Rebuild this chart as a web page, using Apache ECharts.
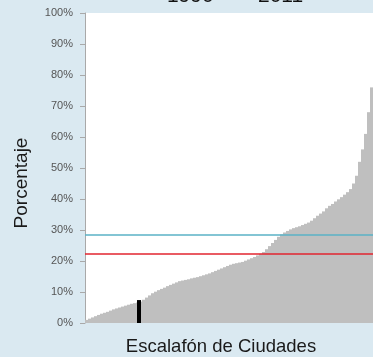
<!DOCTYPE html>
<html>
<head>
<meta charset="utf-8">
<script src="https://cdn.jsdelivr.net/npm/echarts@6/dist/echarts.min.js"></script>
<style>
html,body{margin:0;padding:0;background:#dae9f1;}
#c{width:373px;height:357px;}
</style>
</head>
<body>
<div id="c"></div>
<script>
// Share (%) per city, sorted ascending (city ranking)
var cityValues = [
  1.0, 1.4, 1.8, 2.2, 2.6, 3.0, 3.3, 3.6, 4.0, 4.4,
  4.7, 5.0, 5.3, 5.6, 5.9, 6.2, 6.4, 6.6, 6.9, 7.5,
  8.2, 8.9, 9.6, 10.1, 10.6, 11.0, 11.4, 11.9, 12.3, 12.7,
  13.1, 13.5, 13.7, 13.9, 14.1, 14.4, 14.6, 14.8, 15.1, 15.4,
  15.7, 16.0, 16.4, 16.8, 17.2, 17.6, 18.0, 18.4, 18.8, 19.1,
  19.3, 19.5, 19.7, 20.1, 20.5, 20.9, 21.3, 21.8, 22.3, 22.9,
  23.8, 24.8, 25.8, 26.8, 27.8, 28.6, 29.2, 29.7, 30.2, 30.6,
  30.9, 31.2, 31.6, 32.0, 32.4, 33.0, 33.8, 34.6, 35.3, 36.0,
  37.0, 37.8, 38.4, 39.2, 39.9, 40.6, 41.4, 42.2, 43.2, 45.0,
  47.5, 52.0, 56.0, 61.0, 68.0, 76.0
];
var cityRanks = cityValues.map(function (v, i) { return String(i + 1); });
var markerRank = 18;      // highlighted city (position on ranking)
var markerValue = 7.4;    // highlighted city value (%)
var refLineCyan = 28.4;   // reference level (%)
var refLineRed = 22.3;    // reference level (%)
var yTicks = { min: 0, max: 100, interval: 10 };
var titleText = '1990  —  2011';
var yTitle = 'Porcentaje';
var xTitle = 'Escalafón de Ciudades';

var chart = echarts.init(document.getElementById('c'));
chart.setOption({
  backgroundColor: '#dae9f1',
  animation: false,
  grid: {
    left: 85, right: 0, top: 13, bottom: 34,
    show: true, backgroundColor: '#ffffff', borderWidth: 0
  },
  xAxis: [{
    type: 'category',
    data: cityRanks,
    boundaryGap: true,
    axisLine: { show: false },
    axisTick: { show: false },
    axisLabel: { show: false },
    splitLine: { show: false }
  }, {
    type: 'value',
    min: 0,
    max: cityValues.length,
    show: false
  }],
  yAxis: {
    type: 'value',
    min: yTicks.min, max: yTicks.max, interval: yTicks.interval,
    axisLine: { show: true, lineStyle: { color: '#a9a9a9', width: 1 } },
    axisTick: { show: true, length: 5, lineStyle: { color: '#a9a9a9' } },
    axisLabel: {
      formatter: '{value}%', color: '#555', fontSize: 11,
      fontFamily: 'Liberation Sans, Arial, sans-serif', margin: 12
    },
    splitLine: { show: false }
  },
  series: [{
    type: 'bar',
    data: cityValues,
    barCategoryGap: '0%',
    itemStyle: { color: '#bfbfbf' },
    silent: true,
    markLine: {
      silent: true,
      symbol: 'none',
      label: { show: false },
      data: [
        { yAxis: refLineCyan, lineStyle: { color: '#5ab2c6', width: 1.5, type: 'solid' } },
        { yAxis: refLineRed, lineStyle: { color: '#e2252f', width: 1.5, type: 'solid' } }
      ]
    }
  }, {
    type: 'line',
    xAxisIndex: 1,
    data: [[markerRank, 0], [markerRank, markerValue]],
    symbol: 'none',
    lineStyle: { color: '#000', width: 4 },
    silent: true,
    z: 5
  }],
  graphic: [{
    type: 'text',
    x: 235, y: -14,
    style: {
      text: titleText, align: 'center', verticalAlign: 'top',
      font: '21px "Liberation Sans", Arial, sans-serif',
      fill: '#111'
    }
  }, {
    type: 'text',
    rotation: Math.PI / 2,
    x: 22, y: 183,
    style: {
      text: yTitle, align: 'center', verticalAlign: 'middle',
      font: '19px "Liberation Sans", Arial, sans-serif',
      fill: '#1a1a1a'
    }
  }, {
    type: 'text',
    x: 221, y: 347,
    style: {
      text: xTitle, align: 'center', verticalAlign: 'middle',
      font: '18.5px "Liberation Sans", Arial, sans-serif',
      fill: '#1a1a1a'
    }
  }]
});
</script>
</body>
</html>
